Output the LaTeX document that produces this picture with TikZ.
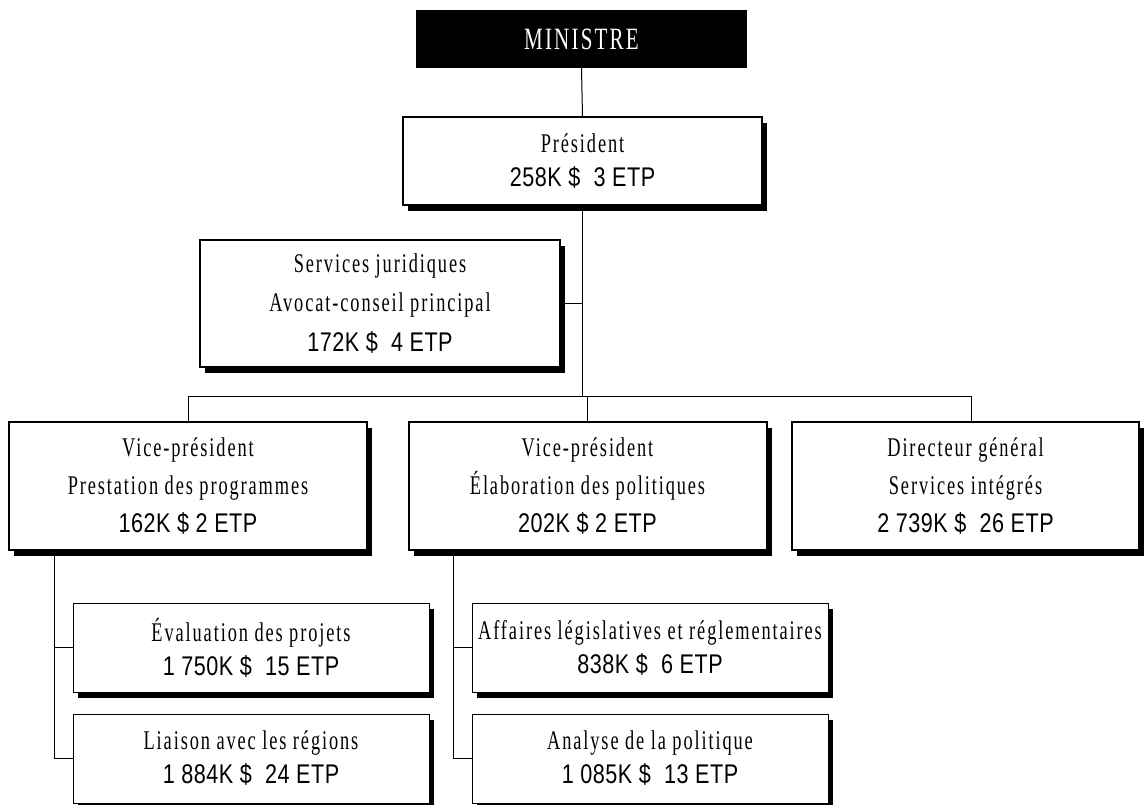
\documentclass[tikz,border=0pt]{standalone}
\usepackage{fontspec}
\setmainfont{Liberation Serif}
\newfontfamily\serifbox{Liberation Serif}[FakeStretch=0.68,LetterSpace=7]
\newfontfamily\numbox{Liberation Sans}[FakeStretch=0.8,LetterSpace=2]
\usetikzlibrary{shadows}
\begin{document}
\begin{tikzpicture}[x=1pt,y=-1pt,
  conn/.style={line width=1pt},
  shadowed/.style={drop shadow={shadow xshift=5pt,shadow yshift=-6pt,fill=black,opacity=1}},
  mainbox/.style={draw, fill=white, line width=2pt, inner sep=0pt, align=center, shadowed,
    font=\fontsize{27}{38}\selectfont\serifbox},
  subbox/.style={draw, fill=white, line width=1pt, inner sep=0pt, align=center, shadowed,
    minimum width=356pt, minimum height=89pt,
    font=\fontsize{27}{34}\selectfont\serifbox},
  topbox/.style={fill=black, text=white, inner sep=0pt, minimum width=331pt, minimum height=58pt,
    font=\fontsize{31}{36}\selectfont\serifbox}
]
\fill[white] (0,0) rectangle (1145,805);
\useasboundingbox (0,0) rectangle (1145,805);

% nodes
\node[topbox] (min) at (581.5,39) {MINISTRE};
\node[mainbox, minimum width=359pt, minimum height=88pt,
  font=\fontsize{27}{34}\selectfont\serifbox] (pres) at (582.5,161)
  {Président\\{\numbox 258K \$~~3 ETP}};
\node[mainbox, minimum width=360pt, minimum height=127pt,
  font=\fontsize{27}{39.5}\selectfont\serifbox] (serv) at (380,303.5)
  {Services juridiques\\Avocat-conseil principal\\{\numbox 172K \$~~4 ETP}};
\node[mainbox, minimum width=358pt, minimum height=128pt] (vp1) at (188,486)
  {Vice-président\\Prestation des programmes\\{\numbox 162K \$ 2 ETP}};
\node[mainbox, minimum width=358pt, minimum height=128pt] (vp2) at (587.5,486)
  {Vice-président\\Élaboration des politiques\\{\numbox 202K \$ 2 ETP}};
\node[mainbox, minimum width=347pt, minimum height=128pt] (dg) at (965.5,486)
  {Directeur général\\Services intégrés\\{\numbox 2 739K \$~~26 ETP}};
\node[subbox] (eval) at (251,647.5) {Évaluation des projets\\{\numbox 1 750K \$~~15 ETP}};
\node[subbox] (liai) at (251,758.5) {Liaison avec les régions\\{\numbox 1 884K \$~~24 ETP}};
\node[subbox] (aff) at (650,647.5) {Affaires législatives et réglementaires\\{\numbox 838K \$~~6 ETP}};
\node[subbox] (ana) at (650,758.5) {Analyse de la politique\\{\numbox 1 085K \$~~13 ETP}};

% connectors
\coordinate (busL) at (188,396);
\coordinate (busR) at (971,396);
\coordinate (ltop) at (54,550);
\coordinate (rtop) at (453,550);
\draw[conn] (min.south) -- (pres.north);
\draw[conn] (pres.south) -- (pres.south |- busL);
\draw[conn] (serv.east) -- (serv.east -| pres.south);
\draw[conn] (busL) -- (busR);
\draw[conn] (busL) -- (vp1.north);
\draw[conn] (vp2.north |- busL) -- (vp2.north);
\draw[conn] (busR) -- (busR |- dg.north);
\draw[conn] (ltop) |- (liai.west);
\draw[conn] (ltop |- eval.west) -- (eval.west);
\draw[conn] (rtop) |- (ana.west);
\draw[conn] (rtop |- aff.west) -- (aff.west);
\end{tikzpicture}
\end{document}
